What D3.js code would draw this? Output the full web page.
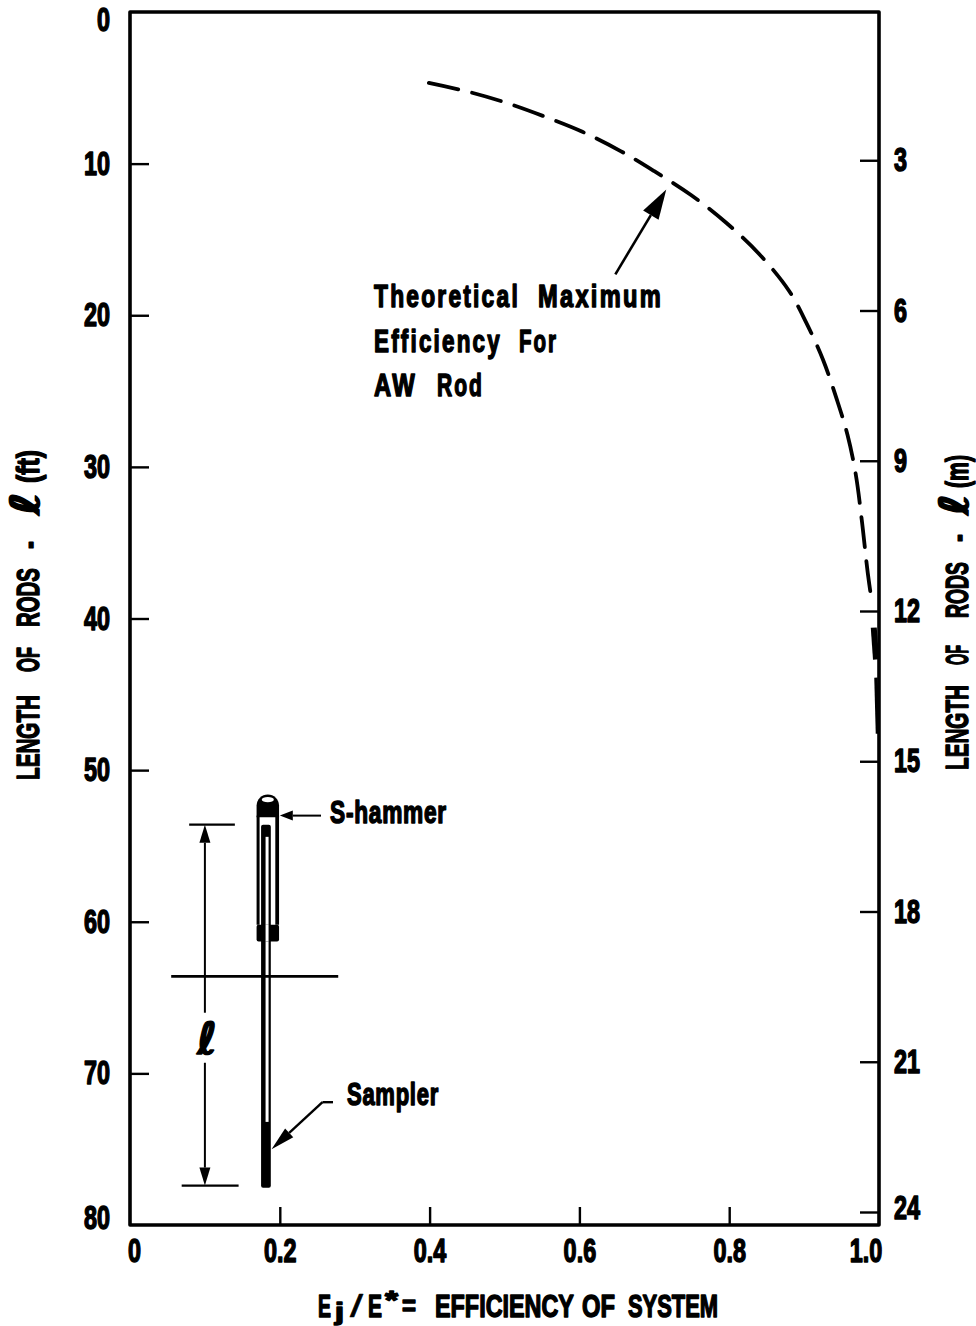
<!DOCTYPE html>
<html><head><meta charset="utf-8">
<script src="https://cdnjs.cloudflare.com/ajax/libs/d3/7.8.5/d3.min.js"></script>
<style>
html,body{margin:0;padding:0;background:#fff}
svg{display:block}
text{font-family:"Liberation Sans",Arial,sans-serif;font-weight:700;fill:#000;stroke:#000;stroke-width:1.5px;stroke-linejoin:round}
</style></head><body>
<svg id="c" width="976" height="1326"></svg>
<script>
// Tick values
const effTicks = [0, 0.2, 0.4, 0.6, 0.8, 1.0];
const feetTicks = [0, 10, 20, 30, 40, 50, 60, 70, 80];
const metreTicks = [3, 6, 9, 12, 15, 18, 21, 24];
// Dashed part of the theoretical maximum curve
const curveEff = [0.399,0.453,0.503,0.559,0.604,0.655,0.700,0.749,0.796,0.840,0.880,0.903,0.925,0.944,0.958,0.969,0.977,0.985,0.991];
const curveFt  = [4.68,5.28,6.0,7.0,7.9,9.17,10.5,12.07,13.9,15.96,18.4,20.5,22.9,25.6,27.9,30.5,33.5,37.0,39.1];
// Solid tail of the curve
const tailEff = [0.993,0.996];
const tailFt = [40.6,42.7];
const tail2Eff = [0.996,0.998];
const tail2Ft = [43.9,47.6];
// Note
const noteWords = ["Theoretical","Maximum","Efficiency","For","AW","Rod"];

const x = d3.scaleLinear().domain([0,1]).range([130,879]);
const y = d3.scaleLinear().domain([0,80]).range([12,1225]);
const ym = d3.scaleLinear().domain([0,24]).range([10,1212]);
const svg = d3.select("#c");

svg.append("rect").attr("x",x(0)).attr("y",y(0)).attr("width",x(1)-x(0)).attr("height",y(80)-y(0))
  .attr("fill","none").attr("stroke","#000").attr("stroke-width",3.6).attr("stroke-linejoin","round");

// Squeezes a text horizontally to a given width about its anchor, keeping its height.
function fit(t,ax,ay,len,rot){
  const n=t.node().getComputedTextLength();
  t.attr("x",null).attr("y",null);
  t.attr("transform",`translate(${ax},${ay})${rot?` rotate(${rot})`:""} scale(${len/n},1)`);
  return t;
}
function styleAxis(g){
  g.select(".domain").remove();
  g.selectAll(".tick line").attr("stroke","#000").attr("stroke-width",2.4);
  g.selectAll(".tick text").style("font-size","33px");
}
const DIGIT=0.71;
function squeeze(g){ g.selectAll(".tick text").each(function(){
  const t=d3.select(this), a=+(t.attr("x")||0);
  t.attr("transform",`translate(${a},0) scale(${DIGIT},1) translate(${-a},0)`);
});}

const gb = svg.append("g").attr("transform",`translate(0,${y(80)})`)
  .call(d3.axisBottom(x).tickValues(effTicks).tickSize(-18).tickPadding(14)
  .tickFormat(d=> d===0 ? "0" : d3.format(".1f")(d))).call(styleAxis).call(squeeze);
gb.selectAll(".tick").filter(d=>d===0||d===1).select("line").remove();
gb.selectAll(".tick").filter(d=>d===0).select("text").attr("dx",5.5);
gb.selectAll(".tick").filter(d=>d===1).select("text").attr("dx",-19);

const gl = svg.append("g").attr("transform",`translate(${x(0)},0)`)
  .call(d3.axisLeft(y).tickValues(feetTicks).tickSize(-19).tickPadding(20)).call(styleAxis).call(squeeze);
gl.selectAll(".tick").filter(d=>d===0||d===80).select("line").remove();
gl.selectAll(".tick").filter(d=>d===0).select("text").attr("dy","0.56em");
gl.selectAll(".tick").filter(d=>d===80).select("text").attr("dy","0.12em");

const gr = svg.append("g").attr("transform",`translate(${x(1)},0)`)
  .call(d3.axisRight(ym).tickValues(metreTicks).tickSize(-19).tickPadding(15)).call(styleAxis).call(squeeze);
gr.selectAll(".tick").filter(d=>d===24).select("text").attr("dy","0.2em");

const line = d3.line().x(d=>x(d[0])).y(d=>y(d[1])).curve(d3.curveCatmullRom.alpha(.5));
svg.append("path").datum(d3.zip(curveEff,curveFt)).attr("d",line).attr("fill","none")
  .attr("stroke","#000").attr("stroke-width",3.8).attr("stroke-linecap","round").attr("stroke-dasharray","30 14.3");
svg.append("path").datum(d3.zip(tailEff,tailFt)).attr("d",line).attr("fill","none").attr("stroke","#000").attr("stroke-width",6);
svg.append("path").datum(d3.zip(tail2Eff,tail2Ft)).attr("d",line).attr("fill","none").attr("stroke","#000").attr("stroke-width",3.5);

function seg(e1,f1,e2,f2,w){svg.append("line").attr("x1",x(e1)).attr("y1",y(f1)).attr("x2",x(e2)).attr("y2",y(f2)).attr("stroke","#000").attr("stroke-width",w);}
function box(e1,f1,e2,f2,fill,r){svg.append("rect").attr("x",x(e1)).attr("y",y(f1)).attr("width",x(e2)-x(e1)).attr("height",y(f2)-y(f1)).attr("fill",fill).attr("rx",r||0);}
function arrow(e1,f1,e2,f2,len,hw,w){
  const a=[x(e1),y(f1)],b=[x(e2),y(f2)],dx=b[0]-a[0],dy=b[1]-a[1],n=Math.hypot(dx,dy),u=dx/n,v=dy/n;
  const c=[b[0]-u*len,b[1]-v*len];
  svg.append("line").attr("x1",a[0]).attr("y1",a[1]).attr("x2",c[0]).attr("y2",c[1]).attr("stroke","#000").attr("stroke-width",w);
  svg.append("path").attr("fill","#000").attr("d",d3.line()([b,[c[0]-v*hw,c[1]+u*hw],[c[0]+v*hw,c[1]-u*hw]])+"Z");
}
function txt(s,px,py,len,size,ls,fam){
  const t=svg.append("text").style("font-size",size+"px").text(s);
  if(ls)t.style("letter-spacing",ls+"px");
  if(fam)t.style("font-family",fam);
  return fit(t,px,py,len);
}
function vtxt(s,bx,yStart,yEnd,size,fam){
  const t=svg.append("text").style("font-size",size+"px").text(s);
  if(fam)t.style("font-family",fam);
  return fit(t,bx,yStart,yStart-yEnd,-90);
}

arrow(0.648,17.3,0.716,11.7,30,9,2.6);
const noteX=[374,538,374,519,374,437], noteEnd=[520,663,502,558,417,484], noteBase=[307,307,352,352,396,396];
noteWords.forEach((s,i)=>txt(s,noteX[i],noteBase[i],noteEnd[i]-noteX[i],31,3));

const LF='"DejaVu Sans",sans-serif';
[["LENGTH",780,695],["OF",672,647],["RODS",627,568],["(ft)",483,450]].forEach(d=>vtxt(d[0],39,d[1],d[2],32));
[["LENGTH",770,685],["OF",665,645],["RODS",618,562],["(m)",488,455]].forEach(d=>vtxt(d[0],968,d[1],d[2],32));
vtxt("-",39,549,541,32); vtxt("-",968,542,534,32);
vtxt("\u2113",39,515,492,40,LF).style("font-style","italic");
vtxt("\u2113",968,515,494,40,LF).style("font-style","italic");

txt("E",318,1317,13,32);
txt("j",335,1320,9,24);
txt("/",350,1317,13,32).style("font-weight",400).style("stroke-width","0.6px");
txt("E",368,1317,14,32);
txt("*",385,1309,13,26);
txt("=",402,1315,14,28);
txt("EFFICIENCY",435,1317,139,32);
txt("OF",582,1317,33,32);
txt("SYSTEM",628,1317,90,32);

// rod / hammer schematic
box(0.175,53.6,0.188,77.55,"#000",2);
box(0.181,54.4,0.185,73.2,"#fff");
box(0.169,60.2,0.199,61.3,"#000",2);
box(0.169,53.0,0.173,60.2,"#000");
box(0.194,53.0,0.199,60.2,"#000");
svg.append("path").attr("fill","#000").attr("d",()=>{const l=x(0.169),r=x(0.199),t=y(51.6),b=y(53.1),R=(r-l)/2;
  return `M${l},${b}L${l},${t+R}A${R},${R} 0 0 1 ${r},${t+R}L${r},${b}Z`;});
svg.append("ellipse").attr("cx",x(0.184)).attr("cy",y(51.95)).attr("rx",6).attr("ry",2.6).attr("fill","#fff");
box(0.181,60.2,0.185,61.3,"#fff");
seg(0.055,63.6,0.278,63.6,2.8);
seg(0.079,53.6,0.140,53.6,2.2);
seg(0.069,77.4,0.145,77.4,2.2);
arrow(0.1,66.0,0.1,53.6,18,5.5,2);
arrow(0.1,69.3,0.1,77.4,18,5.5,2);
txt("\u2113",197,1054,20,44,0,LF).style("font-style","italic");

arrow(0.255,53.0,0.2,53.0,13,5,2);
txt("S-hammer",330,823,117,31,1);
seg(0.271,71.9,0.257,71.9,2.4);
arrow(0.257,71.9,0.189,75.0,24,6,2.4);
txt("Sampler",347,1105,92,31,1);
</script></body></html>
